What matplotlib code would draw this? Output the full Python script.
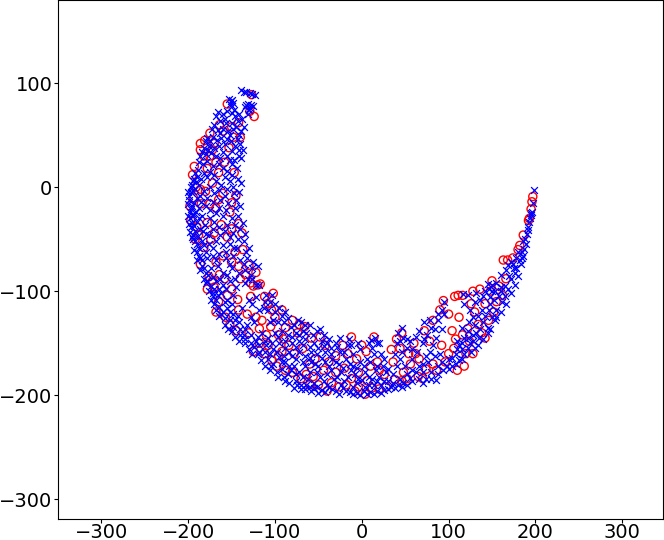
import matplotlib
matplotlib.use("Agg")
import matplotlib.pyplot as plt

# points (x, y), roughly top of the crescent to the right tip
blue_pts = [
    (-139,93),(-136,92),(-133,92),(-129,91),(-126,90),(-123,89),
    (-153,85),(-150,84),(-148,81),(-152,80),(-131,80),(-128,79),(-134,77),(-125,78),(-130,74),(-131,70),
    (-166,72),(-160,70),(-155,73),(-150,71),(-146,68),(-163,64),(-157,62),(-150,62),(-143,64),(-138,66),
    (-170,60),(-166,55),(-160,56),(-154,54),(-148,56),(-142,50),(-139,54),(-136,58),
    (-178,47),(-175,44),(-172,48),(-167,45),(-162,47),(-158,42),(-151,44),(-146,40),(-140,42),(-137,36),(-176,40),(-170,38),
    (-182,38),(-186,30),(-180,32),(-174,33),(-168,30),(-160,34),(-155,30),(-149,35),(-142,30),(-139,28),
    (-183,22),(-178,25),(-172,20),(-165,22),(-160,18),(-150,22),(-144,18),
    (-192,14),(-189,17),(-193,8),(-191,5),(-196,2),(-192,-2),(-197,-5),(-185,8),(-178,10),(-168,6),(-158,10),(-150,12),(-143,8),(-139,4),
    (-175,0),(-165,-3),(-155,-2),(-148,0),(-141,-5),(-186,-8),(-178,-10),(-200,-5),
    (-199,-12),(-196,-18),(-198,-24),(-193,-15),(-188,-20),(-180,-18),(-172,-14),(-163,-12),(-154,-15),(-145,-12),(-140,-18),
    (-198,-30),(-194,-28),(-190,-33),(-184,-28),(-175,-30),(-168,-25),(-160,-28),(-150,-30),(-143,-28),(-199,-35),
    (-197,-38),(-192,-42),(-186,-40),(-180,-45),(-172,-40),(-165,-38),(-158,-42),(-148,-44),(-140,-40),(-135,-45),
    (-195,-50),(-190,-55),(-184,-52),(-176,-55),(-168,-52),(-160,-56),(-152,-55),(-144,-58),(-136,-52),(-130,-58),(-196,-48),
    (-190,-62),(-186,-68),(-180,-62),(-172,-66),(-164,-64),(-156,-68),(-148,-66),(-140,-70),(-132,-68),(-125,-72),(-120,-76),(-190,-70),
    (-184,-76),(-180,-82),(-174,-78),(-166,-76),(-160,-82),(-150,-78),(-142,-82),(-135,-80),(-128,-84),(-182,-88),
    (-178,-90),(-174,-95),(-168,-90),(-160,-94),(-152,-90),(-145,-96),(-135,-92),(-126,-88),(-118,-94),
    (-172,-102),(-168,-108),(-162,-102),(-155,-108),(-148,-104),(-130,-108),(-122,-106),(-112,-110),(-104,-104),(-100,-112),(-172,-105),
    (-165,-115),(-160,-120),(-155,-116),(-148,-122),(-138,-116),(-118,-118),(-108,-118),(-95,-116),(-88,-120),(-162,-122),
    (-152,-128),(-148,-134),(-142,-130),(-135,-136),(-128,-125),(-124,-130),(-102,-128),(-96,-130),(-85,-126),(-78,-132),(-70,-130),(-150,-138),
    (-140,-142),(-134,-146),(-128,-142),(-122,-148),(-115,-140),(-108,-145),(-100,-140),(-92,-138),(-85,-142),(-76,-140),(-68,-138),(-60,-132),(-52,-138),(-44,-142),(-135,-150),
    (-124,-154),(-118,-158),(-110,-152),(-102,-156),(-95,-150),(-88,-155),(-80,-150),(-72,-148),(-65,-146),(-55,-150),(-46,-148),(-38,-146),(-30,-150),(-25,-145),(-15,-146),(-120,-160),
    (-108,-165),(-102,-170),(-95,-163),(-88,-168),(-80,-162),(-72,-158),(-65,-162),(-58,-158),(-50,-155),(-42,-158),(-35,-155),(-25,-158),(-16,-152),(-10,-160),(-2,-156),(8,-150),(15,-145),(12,-155),(-105,-172),
    (-92,-175),(-85,-180),(-78,-172),(-72,-178),(-65,-172),(-58,-168),(-50,-172),(-42,-168),(-34,-165),(-26,-170),(-18,-165),(-10,-172),(-2,-168),(6,-165),(14,-160),(20,-150),(22,-160),(-90,-182),
    (-76,-186),(-70,-190),(-62,-184),(-55,-188),(-48,-182),(-40,-180),(-32,-184),(-24,-178),(-16,-182),(-8,-180),(0,-185),(8,-182),(16,-176),(24,-172),(30,-175),(-75,-190),(-60,-192),
    (-55,-193),(-46,-195),(-38,-192),(-30,-196),(-22,-193),(-14,-197),(-6,-198),(2,-196),(10,-197),(18,-196),(-10,-192),(4,-192),(14,-190),(22,-190),(30,-186),(34,-192),(42,-190),
    (40,-150),(42,-140),(46,-135),(48,-145),(52,-155),(56,-148),(44,-165),(38,-160),(50,-172),(58,-165),(64,-158),(70,-150),(75,-142),(72,-130),(80,-135),(88,-128),(92,-118),(95,-122),
    (85,-145),(78,-158),(70,-170),(62,-178),(55,-183),(48,-188),(70,-178),(80,-178),(88,-172),(76,-168),(90,-160),(95,-110),(122,-104),(117,-103),
    (100,-165),(108,-160),(112,-152),(118,-145),(108,-170),(118,-160),(125,-150),(132,-140),(140,-130),(122,-138),(128,-125),(115,-135),(110,-148),(122,-155),(135,-145),(145,-135),(150,-125),
    (138,-118),(130,-110),(125,-118),(118,-112),(140,-105),(148,-112),(155,-118),(158,-105),(162,-110),(150,-100),(145,-93),(155,-92),(165,-95),(170,-85),(160,-84),(168,-75),(172,-72),(175,-78),
    (165,-105),(155,-125),(145,-140),(130,-155),(115,-165),(100,-175),(85,-185),(70,-188),
    (178,-68),(176,-82),(180,-62),(184,-62),(187,-59),(186,-52),(190,-45),(192,-41),(194,-30),(195,-27),(196,-24),(197,-15),(198,-3),
    # second pass, filling the dense parts
    (-151,83),(-149,78),(-133,79),(-129,76),(-168,68),(-158,66),(-147,74),(-141,70),(-173,56),(-163,52),(-152,50),(-145,58),(-180,44),(-165,40),(-155,46),(-143,46),
    (-184,34),(-177,36),(-163,28),(-152,26),(-141,36),(-187,24),(-175,15),(-155,16),(-147,26),(-190,10),(-194,6),(-188,2),(-182,14),(-170,12),(-162,2),(-152,6),
    (-197,0),(-195,-4),(-199,-8),(-190,-10),(-182,-4),(-170,-6),(-158,-8),(-147,-6),(-200,-16),(-197,-21),(-195,-26),(-191,-24),(-185,-14),(-175,-22),(-164,-20),(-156,-22),(-146,-20),
    (-200,-28),(-196,-34),(-193,-37),(-188,-30),(-181,-36),(-170,-33),(-155,-36),(-146,-36),(-137,-34),(-198,-43),(-194,-46),(-189,-47),(-183,-42),(-176,-46),(-163,-46),(-152,-48),(-143,-50),
    (-192,-52),(-188,-58),(-193,-60),(-182,-56),(-172,-58),(-157,-62),(-147,-58),(-133,-62),(-188,-66),(-184,-70),(-178,-68),(-168,-70),(-152,-74),(-136,-74),(-127,-78),
    (-186,-80),(-182,-78),(-177,-84),(-172,-86),(-163,-88),(-155,-84),(-146,-88),(-131,-88),(-180,-92),(-176,-100),(-170,-98),(-164,-98),(-156,-98),(-122,-94),(-174,-108),(-170,-112),(-166,-104),(-158,-110),(-150,-112),(-126,-112),(-110,-104),(-106,-110),
    (-168,-118),(-164,-124),(-158,-126),(-152,-120),(-143,-124),(-113,-116),(-100,-120),(-92,-124),(-158,-132),(-154,-136),(-146,-128),(-140,-136),(-132,-132),(-106,-130),(-90,-130),(-82,-134),(-74,-128),(-66,-132),
    (-146,-144),(-142,-148),(-136,-142),(-128,-150),(-120,-144),(-112,-148),(-104,-150),(-96,-144),(-88,-148),(-80,-144),(-72,-142),(-64,-140),(-56,-142),(-48,-136),(-40,-150),
    (-130,-156),(-126,-160),(-118,-152),(-112,-158),(-106,-160),(-98,-158),(-90,-162),(-84,-158),(-76,-154),(-68,-152),(-60,-154),(-52,-160),(-44,-153),(-36,-160),(-28,-154),(-20,-158),(-12,-152),(-4,-150),(18,-150),(11,-147),
    (-116,-166),(-112,-172),(-106,-176),(-98,-178),(-92,-168),(-84,-172),(-76,-165),(-68,-168),(-60,-164),(-54,-170),(-46,-164),(-38,-172),(-30,-168),(-22,-174),(-14,-170),(-6,-174),(2,-172),(10,-168),(18,-172),(26,-165),
    (-96,-182),(-88,-186),(-82,-176),(-76,-180),(-68,-182),(-60,-178),(-52,-178),(-44,-186),(-36,-176),(-28,-182),(-20,-186),(-12,-176),(-4,-184),(4,-178),(12,-184),(20,-182),(28,-178),(36,-180),
    (-84,-188),(-78,-193),(-70,-194),(-64,-190),(-58,-196),(-50,-198),(-42,-197),(-34,-194),(-26,-199),(-18,-196),(-10,-199),(-2,-200),(6,-199),(14,-199),(22,-198),(26,-195),(30,-194),(38,-193),(46,-192),(52,-190),
    (-66,-194),(-52,-192),(-40,-190),(-24,-190),(-6,-188),(8,-190),(18,-186),(26,-186),(36,-188),(44,-184),(52,-180),(58,-186),(66,-184),(74,-184),(80,-184),(88,-180),(94,-176),(104,-172),
    (40,-172),(46,-158),(52,-146),(44,-148),(58,-156),(62,-144),(66,-138),(72,-146),(78,-128),(84,-136),(88,-122),(92,-136),(82,-152),(74,-162),(66,-172),(58,-176),(84,-162),(92,-168),(98,-172),
    (112,-166),(104,-164),(110,-156),(116,-150),(122,-145),(128,-142),(116,-156),(126,-158),(134,-152),(140,-146),(148,-136),(154,-128),(160,-120),(166,-112),(172,-102),(176,-94),(180,-85),(183,-74),(186,-66),
    (128,-148),(136,-136),(142,-124),(146,-118),(134,-124),(130,-132),(124,-130),(148,-106),(154,-100),(160,-96),(168,-98),(172,-88),(166,-80),(174,-74),(178,-78),(182,-70),(184,-68),(160,-100),(152,-108),(136,-108),(132,-102),
    (150,-94),(146,-98),(142,-100),(188,-50),(189,-55),(191,-38),(193,-33),(195,-25),
]
red_pts = [
    (-127,89),(-129,73),(-124,68),(-155,80),(-164,60),(-142,62),(-175,52),(-148,48),(-170,42),(-181,45),(-153,38),(-186,36),(-158,24),(-178,18),(-165,14),
    (-193,20),(-195,12),(-147,14),(-172,4),(-160,-6),(-180,-4),(-145,-8),(-194,-10),(-185,-16),(-168,-20),(-152,-24),(-178,-34),(-197,-32),(-162,-36),(-142,-35),
    (-188,-46),(-174,-50),(-155,-48),(-137,-60),(-146,-62),(-182,-58),(-168,-72),(-150,-72),(-130,-75),(-122,-82),(-176,-86),(-158,-88),(-140,-88),(-128,-92),(-117,-93),
    (-170,-96),(-150,-98),(-125,-95),(-120,-94),(-165,-110),(-143,-108),(-112,-105),(-108,-112),(-102,-102),(-92,-118),(-157,-125),(-132,-122),(-122,-125),(-118,-136),
    (-115,-128),(-145,-138),(-105,-134),(-96,-142),(-80,-128),(-74,-140),(-66,-134),(-110,-142),(-118,-150),(-90,-146),(-84,-152),(-58,-145),(-48,-144),(-42,-152),(-22,-152),(-12,-144),(14,-144),
    (-112,-160),(-92,-158),(-68,-155),(-54,-165),(-30,-162),(-6,-165),(5,-158),(18,-168),(-98,-172),(-80,-178),(-64,-180),(-44,-176),(-20,-174),(-4,-178),(10,-172),(26,-180),
    (-70,-184),(-50,-190),(-35,-188),(-18,-190),(-4,-192),(12,-193),(28,-192),(38,-185),
    (34,-156),(40,-146),(44,-155),(36,-168),(54,-160),(60,-150),(48,-178),(66,-165),(72,-138),(82,-128),(90,-118),(94,-109),(100,-122),(78,-148),(92,-152),(65,-182),(74,-175),(82,-170),(96,-168),
    (107,-105),(111,-104),(116,-104),(112,-125),(106,-155),(116,-142),(124,-148),(104,-138),(134,-132),(126,-112),(142,-112),(136,-98),(148,-100),(158,-95),(142,-145),(128,-160),(118,-172),
    (152,-120),(166,-88),(163,-70),(168,-70),(174,-68),(182,-56),(180,-60),(186,-46),(192,-32),(193,-30),(195,-21),(196,-14),(197,-9),
    # second pass
    (-160,54),(-172,36),(-150,58),(-182,30),(-140,48),(-186,42),(-168,24),(-175,30),(-191,0),(-186,-2),(-150,-15),(-165,-12),(-175,-16),(-198,-18),(-190,-38),(-170,-44),(-150,-40),(-138,-44),
    (-192,-50),(-160,-66),(-142,-76),(-186,-74),(-172,-90),(-164,-84),(-134,-84),(-178,-98),(-155,-104),(-128,-105),(-168,-120),(-142,-118),(-104,-118),(-152,-132),(-130,-140),(-100,-125),(-88,-135),(-72,-132),
    (-125,-158),(-108,-152),(-96,-162),(-78,-160),(-60,-170),(-38,-168),(-16,-160),(0,-152),(-104,-166),(-88,-176),(-56,-182),(-30,-178),(-12,-184),(6,-186),(20,-176),(-60,-190),(-40,-196),(-26,-192),(-8,-196),(4,-199),(20,-194),(46,-186),
    (46,-140),(56,-170),(52,-184),(62,-160),(70,-184),(86,-176),(100,-160),(108,-146),(122,-136),(130,-120),(138,-140),(146,-128),(120,-160),(110,-176),(155,-110),(162,-104),(150,-90),(128,-100),
]
x_ticks = [-300, -200, -100, 0, 100, 200, 300]
y_ticks = [-300, -200, -100, 0, 100]

fig = plt.figure(figsize=(6.64, 5.4), dpi=100)
ax = fig.add_axes([58 / 664, 21 / 540, 605 / 664, 519 / 540])

ax.scatter([p[0] for p in red_pts], [p[1] for p in red_pts], s=34, marker="o",
           facecolors="none", edgecolors="red", linewidths=1.0)
ax.scatter([p[0] for p in blue_pts], [p[1] for p in blue_pts], s=24, marker="x",
           color="blue", linewidths=0.9)

ax.set_xlim(-350, 347)
ax.set_ylim(-319, 180)
ax.set_xticks(x_ticks)
ax.set_yticks(y_ticks)
ax.tick_params(labelsize=14, length=3, pad=1)
ax.tick_params(axis="x", pad=0)

fig.savefig("out.png", dpi=100)
